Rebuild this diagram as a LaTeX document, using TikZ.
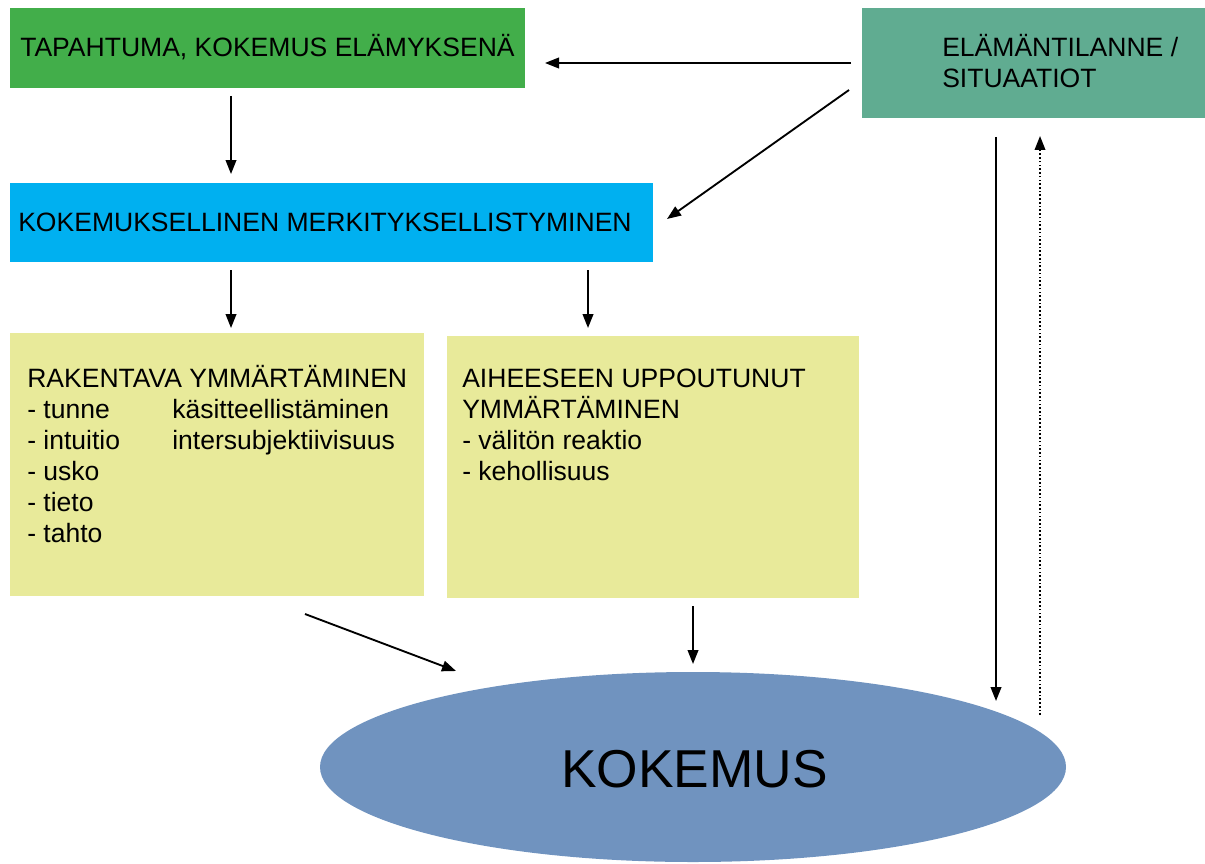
\documentclass[tikz,border=0pt]{standalone}
\usepackage{fontspec}
\setmainfont{Liberation Sans}
\usetikzlibrary{arrows.meta,shapes.geometric}
\definecolor{cgreen}{RGB}{66,174,74}
\definecolor{cteal}{RGB}{96,172,145}
\definecolor{cblue}{RGB}{0,176,240}
\definecolor{cyellow}{RGB}{232,234,154}
\definecolor{cell}{RGB}{112,147,191}
\tikzset{
  box/.style={draw=none, rectangle, inner sep=0pt},
  txt/.style={anchor=base west, inner sep=0pt, font=\fontsize{19.9}{23.25}\selectfont},
  arr/.style={line width=1.4pt, -{Triangle[length=10.5pt,width=8pt]}},
  dotarr/.style={line width=1.2pt, dash pattern=on 1.2pt off 1.6pt, -{Triangle[length=10.5pt,width=8pt]}}
}
\begin{document}
\begin{tikzpicture}[x=0.75pt,y=-0.75pt]
\useasboundingbox (0,0) rectangle (1205,863);
% boxes
\node[box, fill=cgreen, minimum width=515*0.75pt, minimum height=80*0.75pt] (green) at (267.5,48) {};
\node[box, fill=cteal, minimum width=343*0.75pt, minimum height=110*0.75pt] (teal) at (1033.5,63) {};
\node[box, fill=cblue, minimum width=643*0.75pt, minimum height=79*0.75pt] (blue) at (331.5,222.5) {};
\node[box, fill=cyellow, minimum width=414*0.75pt, minimum height=263*0.75pt] (yl) at (217,464.5) {};
\node[box, fill=cyellow, minimum width=412*0.75pt, minimum height=262*0.75pt] (yr) at (653,467) {};
\node[ellipse, fill=cell, inner sep=0pt, minimum width=746*0.75pt, minimum height=190*0.75pt] (kok) at (693,767) {};
% texts
\node[txt] (tgreen) at (20,57) {TAPAHTUMA, KOKEMUS ELÄMYKSENÄ};
\node[txt] (tteal1) at (942,57) {ELÄMÄNTILANNE /};
\node[txt] (tteal2) at (942,88) {SITUAATIOT};
\node[txt] (tblue) at (18,231) {KOKEMUKSELLINEN MERKITYKSELLISTYMINEN};
\foreach \t [count=\i from 0] in {RAKENTAVA YMMÄRTÄMINEN,- tunne,- intuitio,- usko,- tieto,- tahto}
  \node[txt] (tl\i) at (27,387+31*\i) {\t};
\node[txt] (tk1) at (172,418) {käsitteellistäminen};
\node[txt] (tk2) at (172,449) {intersubjektiivisuus};
\foreach \t [count=\i from 0] in {AIHEESEEN UPPOUTUNUT,YMMÄRTÄMINEN,- välitön reaktio,- kehollisuus}
  \node[txt] (tr\i) at (462,387+31*\i) {\t};
\node[anchor=base, inner sep=0pt, font=\fontsize{40}{48}\selectfont] (tkok) at (694.5,787) {KOKEMUS};
% connector end points
\coordinate (a1s) at (851,63);   \coordinate (a1e) at (545,63);
\coordinate (a2s) at (849,90);   \coordinate (a2e) at (667,219);
\coordinate (a3s) at (231,96);   \coordinate (a3e) at (231,174);
\coordinate (a4s) at (231,270);  \coordinate (a4e) at (231,328);
\coordinate (a5s) at (588,270);  \coordinate (a5e) at (588,328);
\coordinate (a6s) at (305,614);  \coordinate (a6e) at (456,671);
\coordinate (a7s) at (693,606);  \coordinate (a7e) at (693,664);
\coordinate (a8s) at (996,137);  \coordinate (a8e) at (996,701);
\coordinate (a9s) at (1040,715); \coordinate (a9e) at (1040,136);
% connectors
\draw[arr] (a1s) -- (a1e);
\draw[arr] (a2s) -- (a2e);
\draw[arr] (a3s) -- (a3e);
\draw[arr] (a4s) -- (a4e);
\draw[arr] (a5s) -- (a5e);
\draw[arr] (a6s) -- (a6e);
\draw[arr] (a7s) -- (a7e);
\draw[arr] (a8s) -- (a8e);
\draw[dotarr] (a9s) -- (a9e);
\end{tikzpicture}
\end{document}
